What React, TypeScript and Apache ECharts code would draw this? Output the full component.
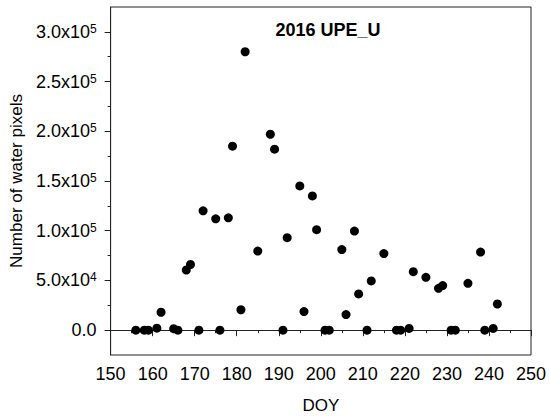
import React, { useEffect, useRef } from "react";
import * as echarts from "echarts";

const doy = [156, 158, 159, 161, 162, 165, 166, 168, 169, 171, 172, 175, 176, 178, 179, 181, 182, 185, 188, 189, 191, 192, 195, 196, 198, 199, 201, 202, 205, 206, 208, 209, 211, 212, 215, 218, 219, 221, 222, 225, 228, 229, 231, 232, 235, 238, 239, 241, 242];
const waterPixels = [0, 0, 0, 2000, 18000, 1500, 0, 60500, 66000, 0, 120000, 112000, 0, 113000, 185000, 20500, 280000, 79500, 197000, 182000, 0, 93000, 145000, 18700, 135000, 101000, 0, 0, 81000, 15700, 99600, 36400, 0, 49500, 77000, 0, 0, 1700, 58800, 53100, 42100, 44800, 0, 0, 47100, 78500, 0, 1700, 26300];
const majorYTicks = [0, 50000, 100000, 150000, 200000, 250000, 300000];
const minorYTicks = [25000, 75000, 125000, 175000, 225000, 275000];
const yLabels: Record<number, [string, string]> = {
  0: ["0.0", ""],
  50000: ["5.0x10", "4"],
  100000: ["1.0x10", "5"],
  150000: ["1.5x10", "5"],
  200000: ["2.0x10", "5"],
  250000: ["2.5x10", "5"],
  300000: ["3.0x10", "5"],
};

const FONT = "Arial, 'Liberation Sans', sans-serif";
const AXIS_COLOR = "#222";

export default function App() {
  const ref = useRef<HTMLDivElement>(null);
  useEffect(() => {
    if (!ref.current) return;
    const chart = echarts.init(ref.current, undefined, { renderer: "svg" });
    const data = doy.map((d, i) => [d, waterPixels[i]]);
    chart.setOption({
      animation: false,
      textStyle: { fontFamily: FONT },
      title: {
        text: "2016 UPE_U",
        left: 323,
        top: 16,
        textAlign: "center",
        textStyle: { fontFamily: FONT, fontSize: 18, fontWeight: "bold", color: "#000" },
      },
      grid: {
        left: 98,
        right: 19,
        top: 7,
        bottom: 63,
        show: true,
        borderColor: AXIS_COLOR,
        borderWidth: 1,
        backgroundColor: "transparent",
      },
      xAxis: {
        type: "value",
        min: 150,
        max: 250,
        interval: 10,
        name: "DOY",
        nameLocation: "middle",
        nameGap: 42,
        nameTextStyle: { fontFamily: FONT, fontSize: 17, color: "#000" },
        axisLine: { show: true, lineStyle: { color: AXIS_COLOR, width: 1 } },
        axisTick: { show: true, length: 6, lineStyle: { color: AXIS_COLOR } },
        minorTick: { show: true, splitNumber: 2, length: 3, lineStyle: { color: AXIS_COLOR } },
        splitLine: { show: false },
        minorSplitLine: { show: false },
        axisLabel: { fontFamily: FONT, fontSize: 18, color: "#000", margin: 10 },
      },
      yAxis: [
        {
          type: "value",
          min: -25000,
          max: 325000,
          interval: 25000,
          position: "left",
          name: "Number of water pixels",
          nameLocation: "middle",
          nameGap: 85,
          nameRotate: 90,
          nameTextStyle: { fontFamily: FONT, fontSize: 17, color: "#000" },
          axisLine: { show: true, lineStyle: { color: AXIS_COLOR, width: 1 } },
          axisTick: { show: true, length: 6, customValues: majorYTicks, lineStyle: { color: AXIS_COLOR } },
          splitLine: { show: false },
          axisLabel: {
            customValues: majorYTicks,
            margin: 14,
            formatter: (v: number) => {
              const l = yLabels[v];
              if (!l) return "";
              return l[1] ? `{b|${l[0]}}{s|${l[1]}}` : `{b|${l[0]}}`;
            },
            rich: {
              b: { fontFamily: FONT, fontSize: 18, lineHeight: 18, color: "#000" },
              s: { fontFamily: FONT, fontSize: 12, lineHeight: 7, verticalAlign: "top", color: "#000" },
            },
          },
        },
        {
          type: "value",
          min: -25000,
          max: 325000,
          interval: 25000,
          position: "left",
          axisLine: { show: false },
          axisTick: { show: true, length: 3, customValues: minorYTicks, lineStyle: { color: AXIS_COLOR } },
          axisLabel: { show: false },
          splitLine: { show: false },
        },
      ],
      series: [
        {
          type: "scatter",
          data,
          symbol: "circle",
          symbolSize: 9,
          itemStyle: { color: "#000", opacity: 1 },
          yAxisIndex: 0,
        },
      ],
    });
    return () => chart.dispose();
  }, []);
  return <div ref={ref} style={{ position: "absolute", left: 0, top: 0, width: 550, height: 419 }} />;
}
